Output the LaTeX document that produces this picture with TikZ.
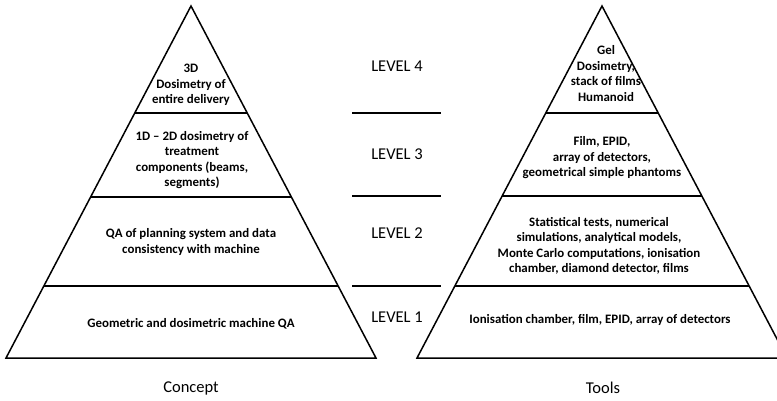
\documentclass[tikz,border=0pt]{standalone}
\usepackage{fontspec}
\setmainfont{Carlito}
\usetikzlibrary{calc}

\tikzset{
	outline/.style={line width=1.5pt},
	levelline/.style={line width=2.7pt},
	boxtext/.style={align=center, font=\fontsize{12.9}{15.5}\selectfont\bfseries},
	leveltext/.style={font=\fontsize{16.5}{20}\selectfont},
}
% bar across a pyramid with apex x = #1 at height #2
\def\levelbar(#1:#2){\draw[levelline] ({#1-0.5256*(#2-6)}, #2) -- ({#1+0.5256*(#2-6)}, #2);}

\begin{document}
\begin{tikzpicture}[x=1pt, y=-1pt]
			%%%%% START %%%%%
			\clip (0, 0) rectangle (777, 400);
			
			% concept pyramid
			\draw[outline, line join=miter] (191, 6) -- (376, 358) -- (6, 358) -- cycle;
			\levelbar(191:113)
			\levelbar(191:197)
			\levelbar(191:286)
			
			% tools pyramid
			\draw[outline, line join=miter] (602, 6) -- (787, 358) -- (417, 358) -- cycle;
			\levelbar(602:113)
			\levelbar(602:196)
			\levelbar(602:286)
			
			% separators between the pyramids
			\draw[levelline] (352, 113) -- (441, 113);
			\draw[levelline] (352, 196) -- (441, 196);
			\draw[levelline] (352, 286) -- (441, 286);
			
			\node[leveltext] (lvfour) at (397, 66) {LEVEL 4};
			\node[leveltext] (lvthree) at (397, 154) {LEVEL 3};
			\node[leveltext] (lvtwo) at (397, 233) {LEVEL 2};
			\node[leveltext] (lvone) at (397, 317) {LEVEL 1};
			
			\node[boxtext] (cfour) at (191, 85) {3D\\Dosimetry of\\entire delivery};
			\node[boxtext] (cthree) at (192, 160) {1D -- 2D dosimetry of\\treatment\\components (beams,\\segments)};
			\node[boxtext] (ctwo) at (191, 242) {QA of planning system and data\\consistency with machine};
			\node[boxtext] (cone) at (191, 324) {Geometric and dosimetric machine QA};
			
			\node[boxtext] (tfour) at (606, 73.5) {Gel\\Dosimetry,\\stack of films\\Humanoid};
			\node[boxtext] (tthree) at (602, 158) {Film, EPID,\\array of detectors,\\geometrical simple phantoms};
			\node[boxtext] (ttwo) at (599, 246) {Statistical tests, numerical\\simulations, analytical models,\\Monte Carlo computations, ionisation\\chamber, diamond detector, films};
			\node[boxtext] (tone) at (600, 320) {Ionisation chamber, film, EPID, array of detectors};
			
			\node[leveltext] (concept) at (191, 388) {Concept};
			\node[leveltext] (tools) at (603, 388) {Tools};
			%%%%% END %%%%%
\end{tikzpicture}
\end{document}
